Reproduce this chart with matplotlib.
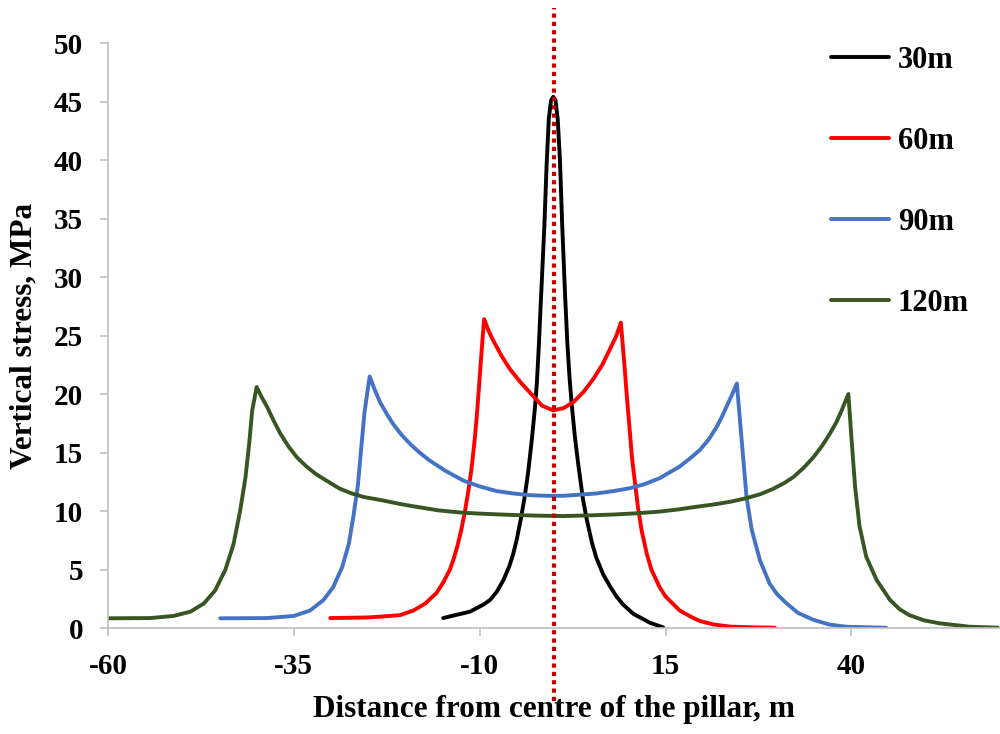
import matplotlib.pyplot as plt

# values (distance in m, vertical stress in MPa)
x30 = [-14.9, -13.3, -12.6, -11.3, -10.4, -9.5, -8.6, -7.7, -6.8, -6.0, -5.5, -5.0, -4.5, -4.0, -3.5,
       -3.0, -2.55, -2.3, -2.05, -1.8, -1.3, -1.0, -0.7, -0.4, -0.1, 0.2, 0.5, 0.8, 1.1,
       1.5, 1.8, 2.1, 2.4, 2.8, 3.3, 3.9, 4.4, 5.1, 5.7, 6.6, 7.5, 8.4, 9.3, 10.7,
       11.6, 12.9, 13.8, 14.7]
y30 = [0.85, 1.1, 1.2, 1.4, 1.7, 2.0, 2.4, 3.1, 4.1, 5.3, 6.3, 7.6, 9.2, 11.0, 13.2,
       16.0, 18.9, 21.0, 24.0, 27.5, 34.3, 39.5, 43.5, 45.1, 45.4, 45.1, 43.5, 40.0, 34.5,
       28.3, 24.3, 21.3, 19.0, 16.4, 13.8, 11.0, 9.3, 7.3, 6.0, 4.6, 3.6, 2.7, 2.0, 1.2,
       0.9, 0.45, 0.25, 0.05]

x60 = [-30.1, -25.2, -23.4, -20.7, -18.9, -17.3, -15.8, -14.9, -14.0, -13.5, -13.0, -12.5, -12.0,
       -11.5, -11.1, -10.7, -10.4, -10.1, -9.9, -9.6, -9.4, -8.8, -8.2, -7.0, -5.9, -4.5, -3.2,
       -1.6, -0.1, 1.3, 2.6, 4.0, 5.3, 6.5, 7.5, 8.4, 9.0, 9.3, 9.5, 9.8, 10.2, 10.5, 10.9,
       11.3, 11.8, 12.5, 13.1, 14.2, 15.0, 16.9, 18.6, 19.6, 21.5, 23.7, 26.5, 29.7]
y60 = [0.85, 0.9, 0.97, 1.1, 1.5, 2.1, 3.0, 3.9, 5.0, 5.9, 7.0, 8.3, 9.9,
       11.8, 13.6, 15.9, 18.0, 20.5, 22.3, 24.8, 26.4, 25.4, 24.6, 23.2, 22.1, 21.0, 20.1,
       19.0, 18.6, 18.8, 19.3, 20.2, 21.3, 22.5, 23.8, 25.0, 26.1, 23.8, 22.3, 19.8, 16.8, 14.5, 12.4,
       10.3, 8.3, 6.3, 5.0, 3.5, 2.7, 1.5, 0.9, 0.6, 0.3, 0.12, 0.06, 0.03]

x90 = [-44.9, -38.6, -35.0, -32.8, -31.0, -29.7, -28.5, -27.6, -27.0, -26.4, -26.0, -25.5, -24.8,
       -24.2, -23.4, -22.5, -21.6, -20.5, -19.3, -18.1, -16.7, -14.5, -12.2, -10.0, -7.7, -5.5,
       -3.2, -1.0, 1.25, 3.5, 5.7, 8.0, 10.2, 12.2, 14.2, 16.9, 18.3, 19.6, 20.8, 21.9, 22.7,
       23.4, 24.0, 24.6, 25.2, 25.9, 26.6, 27.7, 29.0, 30.0, 31.3, 32.8, 34.9, 37.0, 39.3, 44.7]
y90 = [0.83, 0.85, 1.03, 1.5, 2.4, 3.5, 5.2, 7.2, 9.5, 12.1, 14.9, 18.4, 21.5,
       20.5, 19.3, 18.3, 17.4, 16.5, 15.7, 15.0, 14.3, 13.4, 12.6, 12.1, 11.7, 11.5,
       11.35, 11.3, 11.3, 11.4, 11.5, 11.7, 11.95, 12.3, 12.8, 13.8, 14.5, 15.2, 16.1, 17.2, 18.2,
       19.2, 20.0, 20.9, 16.4, 11.2, 8.4, 5.8, 3.8, 2.9, 2.1, 1.3, 0.7, 0.3, 0.11, 0.02]

x120 = [-59.9, -54.3, -51.2, -48.9, -47.1, -45.6, -44.2, -43.1, -42.2, -41.5, -41.0, -40.6, -40.0,
        -39.3, -38.6, -37.7, -36.8, -35.7, -34.6, -33.3, -31.9, -30.1, -28.8, -27.2, -25.6, -23.0,
        -20.7, -18.9, -15.5, -12.2, -9.0, -5.5, -2.0, 1.25, 4.5, 8.0, 11.0, 14.2, 16.9, 19.0,
        21.4, 23.8, 25.9, 27.8, 29.5, 31.0, 32.2, 33.6, 34.9, 36.1, 37.1, 38.0, 38.7, 39.6,
        40.0, 40.5, 41.1, 42.0, 43.4, 45.2, 46.5, 47.8, 49.8, 51.9, 55.9, 59.7]
y120 = [0.83, 0.85, 1.03, 1.4, 2.1, 3.2, 5.0, 7.2, 10.1, 12.9, 15.8, 18.6, 20.6,
        19.7, 18.9, 17.7, 16.6, 15.5, 14.6, 13.8, 13.1, 12.4, 11.9, 11.5, 11.2, 10.9,
        10.6, 10.4, 10.05, 9.85, 9.75, 9.66, 9.6, 9.57, 9.62, 9.7, 9.8, 9.95, 10.15, 10.35,
        10.55, 10.8, 11.1, 11.45, 11.9, 12.4, 12.9, 13.7, 14.6, 15.6, 16.6, 17.6, 18.6, 20.0,
        16.4, 12.1, 8.7, 6.1, 4.1, 2.4, 1.6, 1.1, 0.65, 0.4, 0.11, 0.03]

labels = ['30m', '60m', '90m', '120m']
colors = ['#000000', '#ff0000', '#4472c4', '#375623']
xticks = [-60, -35, -10, 15, 40]
yticks = [0, 5, 10, 15, 20, 25, 30, 35, 40, 45, 50]

plt.rcParams['font.family'] = ['Liberation Serif', 'DejaVu Serif']
plt.rcParams['font.weight'] = 'bold'
plt.rcParams['axes.unicode_minus'] = False

fig = plt.figure(figsize=(10, 7.34), dpi=100)
ax = fig.add_axes([0.108, 0.1444, 0.892, 0.797])

series = [(x30, y30), (x60, y60), (x90, y90), (x120, y120)]
for (xs, ys), lab, c in zip(series, labels, colors):
    ax.plot(xs, ys, color=c, lw=2.8, label=lab, solid_capstyle='round', solid_joinstyle='round')

# centre line of the pillar
ax.plot([0, 0], [-6.2, 53], color='#c00000', lw=3, linestyle=(0, (1, 1)), clip_on=False, zorder=5)

ax.set_xlim(-60, 60)
ax.set_ylim(0, 50)
ax.set_xticks(xticks)
ax.set_yticks(yticks)
ax.tick_params(axis='both', labelsize=21, color='#bfbfbf', length=6, width=1.2, pad=12)
for lab in ax.get_xticklabels() + ax.get_yticklabels():
    lab.set_fontweight('bold')

for s in ['top', 'right']:
    ax.spines[s].set_visible(False)
for s in ['left', 'bottom']:
    ax.spines[s].set_color('#bfbfbf')
    ax.spines[s].set_linewidth(1.2)

ax.set_xlabel('Distance from centre of the pillar, m', fontsize=22.5, fontweight='bold', labelpad=11)
ax.set_ylabel('Vertical stress, MPa', fontsize=22.5, fontweight='bold', labelpad=11)

leg = ax.legend(loc='upper right', bbox_to_anchor=(0.996, 1.042), frameon=False, fontsize=22,
                handlelength=1.9, labelspacing=1.7, handletextpad=0.3)
for t in leg.get_texts():
    t.set_fontweight('bold')

fig.savefig('out.png', dpi=100)
